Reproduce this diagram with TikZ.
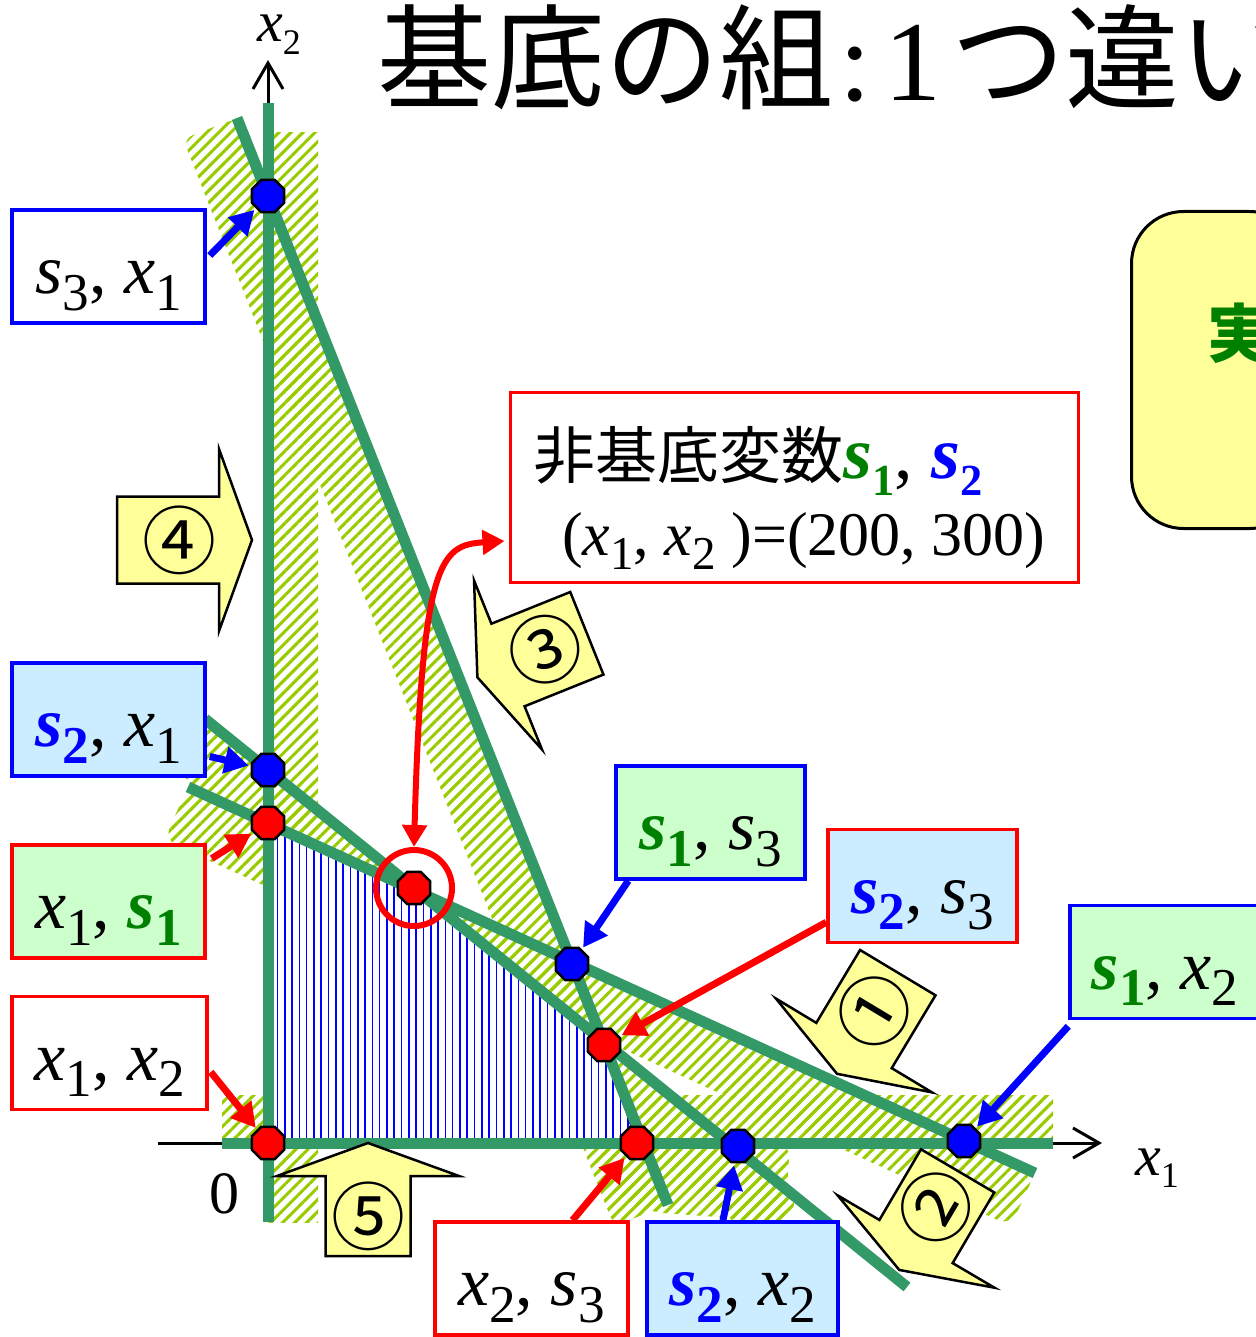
\documentclass[tikz,border=0pt]{standalone}
\usepackage{fontspec}
\usepackage{graphicx}
\setmainfont{Liberation Serif}
\newfontfamily\cjk{Noto Sans CJK JP}
\usetikzlibrary{arrows.meta,patterns.meta,shapes.geometric,calc}

\definecolor{lgreen}{HTML}{CCFFCC}
\definecolor{lblue}{HTML}{CCECFF}
\definecolor{lyellow}{HTML}{FFFF99}
\definecolor{dgreen}{HTML}{008000}
\definecolor{lgr}{HTML}{339966}
\definecolor{hatchc}{HTML}{99CC00}

\newcommand\fs[1]{\fontsize{#1}{#1}\selectfont}
\newcommand\lo[1]{\raisebox{-0.24em}{\scalebox{0.76}{#1}}}
\newcommand\lotwo[1]{\raisebox{-0.23em}{\scalebox{0.6}{#1}}}
\newcommand\ax[1]{\raisebox{-0.22em}{\scalebox{0.62}{#1}}}
\newcommand\vi[1]{\textit{#1}}
\newcommand\gs[1]{\textcolor{dgreen}{\textbf{\textit{s}}\lo{\textbf{#1}}}}
\newcommand\bls[1]{\textcolor{blue}{\textbf{\textit{s}}\lo{\textbf{#1}}}}
\newcommand\gsi[1]{\textcolor{dgreen}{\textbf{\textit{s}}\lotwo{\textbf{#1}}}}
\newcommand\blsi[1]{\textcolor{blue}{\textbf{\textit{s}}\lotwo{\textbf{#1}}}}

\tikzset{
  hatch/.style={pattern={Lines[angle=45,distance=8.5pt,line width=3.1pt]},pattern color=hatchc},
  feas/.style={pattern={Lines[angle=90,distance=7.3pt,line width=1.6pt]},pattern color=blue},
  gline/.style={draw=lgr,line width=11pt},
  axisline/.style={draw=black,line width=3pt,-{Straight Barb[length=26pt,width=30pt]}},
  vtx/.style={regular polygon,regular polygon sides=8,minimum size=35pt,inner sep=0pt,draw=black,line width=2.5pt},
  vr/.style={vtx,fill=red},
  vb/.style={vtx,fill=blue},
  lbox/.style={line width=3.5pt,minimum width=193pt,minimum height=113pt,inner sep=0pt,
     text height=83.5pt,text depth=29.5pt,font=\fs{70}},
  bptr/.style={draw=blue,line width=7pt,-{Triangle[length=24pt,width=26pt]},shorten >=2pt},
  rptr/.style={draw=red,line width=7pt,-{Triangle[length=24pt,width=26pt]},shorten >=2pt},
  blk/.style={draw=black,fill=lyellow,line width=2.5pt,line join=miter},
  numtxt/.style={inner sep=0pt,font={\fs{74}\cjk}},
}

\newcommand\blockarrow[8]{%
\begin{scope}[shift={(#2,#3)},rotate=#4]
\draw[blk] (-#5,-#6) -- (0,-#6) -- (0,-91) -- (33,0) -- (0,91) -- (0,#6) -- (-#5,#6) -- cycle;
\node[numtxt,rotate=#8] (#1) at (-40,0) {#7};
\end{scope}}

\begin{document}
\begin{tikzpicture}[x=1pt,y=-1pt]
\useasboundingbox (0,0) rectangle (1255,1337);

% line end points
\coordinate (At) at (188,787);  \coordinate (Ab) at (1035,1173);
\coordinate (Bt) at (205,719);  \coordinate (Bb) at (907,1287);
\coordinate (Ct) at (237,118);  \coordinate (Cb) at (668,1205);

% hatched bands
\fill[hatch] (268,133) rectangle (318,1222);
\fill[hatch] (222,1095) rectangle (1053,1143);
\fill[hatch,rounded corners=10] (237,118) -- (668,1205) -- (614,1226) -- (183,139) -- cycle;
\fill[hatch,rounded corners=14] (188,787) -- (1035,1173) -- (1011,1226) -- (164,840) -- cycle;
\fill[hatch,rounded corners=14] (205,719) -- (800,1200) -- (763,1245) -- (168,764) -- cycle;
\fill[hatch,rounded corners=14] (593,1143) -- (790,1143) -- (785,1222) -- (650,1212) -- (600,1185) -- cycle;

% feasible region
\fill[white] (268,823) -- (414,888) -- (604,1045) -- (637,1143) -- (268,1143) -- cycle;
\fill[feas] (268,823) -- (414,888) -- (604,1045) -- (637,1143) -- (268,1143) -- cycle;
\draw[line width=2pt] (604,1045) -- (637,1143);

% axes
\draw[axisline] (158,1143) -- (1102,1143);
\draw[axisline] (268,1222) -- (268,60);

% constraint lines
\draw[gline] (268,103) -- (268,1222);
\draw[gline] (222,1143) -- (1053,1143);
\draw[gline] (At) -- (Ab);
\draw[gline] (Bt) -- (Bb);
\draw[gline] (Ct) -- (Cb);

% axis labels
\node[anchor=base west,inner sep=0pt,font=\fs{58}] (lx2) at (257,42) {\vi{x}\ax{2}};
\node[anchor=base west,inner sep=0pt,font=\fs{58}] (lx1) at (1135,1175) {\vi{x}\ax{1}};
\node[inner sep=0pt,font=\fs{60}] (lzero) at (224,1194) {0};

% red circle
\node[circle,draw=red,line width=6pt,minimum size=76pt,inner sep=0pt] (circ) at (414,888) {};

% vertices
\node[vb] (V1) at (268,196) {};
\node[vb] (V2) at (268,770) {};
\node[vr] (V3) at (268,823) {};
\node[vr] (V4) at (414,888) {};
\node[vb] (V5) at (572,964) {};
\node[vr] (V6) at (604,1045) {};
\node[vr] (V7) at (637,1143) {};
\node[vb] (V8) at (738,1146) {};
\node[vb] (V9) at (964,1141) {};
\node[vr] (V0) at (268,1143) {};

% label boxes
\node[lbox,draw=blue,fill=white] (b1) at (108.5,266.5) {\vi{s}\lo{3}, \vi{x}\lo{1}};
\node[lbox,draw=blue,fill=lblue] (b2) at (108.5,719.5) {\bls{2}, \vi{x}\lo{1}};
\node[lbox,draw=red,fill=lgreen] (b3) at (108.5,901.5) {\vi{x}\lo{1}, \gs{1}};
\node[lbox,draw=red,fill=white,minimum width=195pt] (b4) at (109.5,1053) {\vi{x}\lo{1}, \vi{x}\lo{2}};
\node[lbox,draw=blue,fill=lgreen,minimum width=189pt] (b5) at (710.5,822.5) {\gs{1}, \vi{s}\lo{3}};
\node[lbox,draw=red,fill=lblue,minimum width=189pt] (b6) at (922.5,886) {\bls{2}, \vi{s}\lo{3}};
\node[lbox,draw=blue,fill=lgreen,minimum width=190pt] (b7) at (1165,962) {\gs{1}, \vi{x}\lo{2}};
\node[lbox,draw=red,fill=white] (b8) at (531.5,1278.5) {\vi{x}\lo{2}, \vi{s}\lo{3}};
\node[lbox,draw=blue,fill=lblue,minimum width=191pt] (b9) at (742.5,1278.5) {\bls{2}, \vi{x}\lo{2}};

% pointer arrows
\draw[bptr] ($(b1.east)+(3,-11)$) -- (V1);
\draw[bptr] ($(b2.east)+(3,37)$) -- (V2);
\draw[rptr] ($(b3.east)+(5,-43)$) -- (V3);
\draw[rptr] ($(b4.east)+(2,19)$) -- (V0);
\draw[bptr] ($(b5.south west)+(14,0)$) -- (V5);
\draw[rptr] ($(b6.south west)+(0,-22)$) -- (V6);
\draw[bptr] ($(b7.south west)+(0,6)$) -- (V9);
\draw[rptr] ($(b8.north)+(41,0)$) -- (V7);
\draw[bptr] ($(b9.north)+(-19.5,0)$) -- (V8);

% info box
\node[draw=red,line width=3pt,fill=white,minimum width=568pt,minimum height=190pt,inner sep=0pt] (info) at (794,487) {};
\node[anchor=base west,inner sep=0pt] (info1) at (533,478) {{\fs{62}\cjk 非基底変数}{\fs{74}\gsi{1}, \blsi{2}}};
\node[anchor=base west,inner sep=0pt,font=\fs{62}] (info2) at (562,555) {(\vi{x}\lo{1}, \vi{x}\lo{2} )=(200, 300)};
\coordinate (infoarr) at ($(info.west)+(-4,54)$);
\draw[draw=red,line width=6pt,{Triangle[length=22pt,width=24pt]}-{Triangle[length=22pt,width=24pt]}]
  (circ.north) .. controls +(8,-287) and +(-64,4) .. (infoarr);

% block arrows
\blockarrow{n4}{219}{540}{0}{102}{43.5}{④}{0}
\blockarrow{n3}{508}{665}{201.9}{85}{44.5}{③}{21.9}
\blockarrow{n1}{854}{1045.5}{239}{85}{44}{①}{59}
\blockarrow{n2}{916}{1241.5}{239.5}{82}{42.5}{②}{59.5}
\blockarrow{n5}{368}{1176}{90}{80}{42.5}{⑤}{0}

% right yellow box
\node[draw=black,line width=3pt,fill=lyellow,rounded corners=52pt,minimum width=170pt,minimum height=317pt,anchor=north west] (ybox) at (1130,210) {};
\node[inner sep=0pt,text=dgreen,font={\fs{64}\cjk\bfseries}] (jitsu) at (1239,333) {実};

% title
\node[anchor=base west,inner sep=0pt] (title) at (377,101) {\fs{114}{\cjk 基底の組}\kern6pt:\kern14pt1\kern10pt{\cjk つ違い}};
\end{tikzpicture}
\end{document}
